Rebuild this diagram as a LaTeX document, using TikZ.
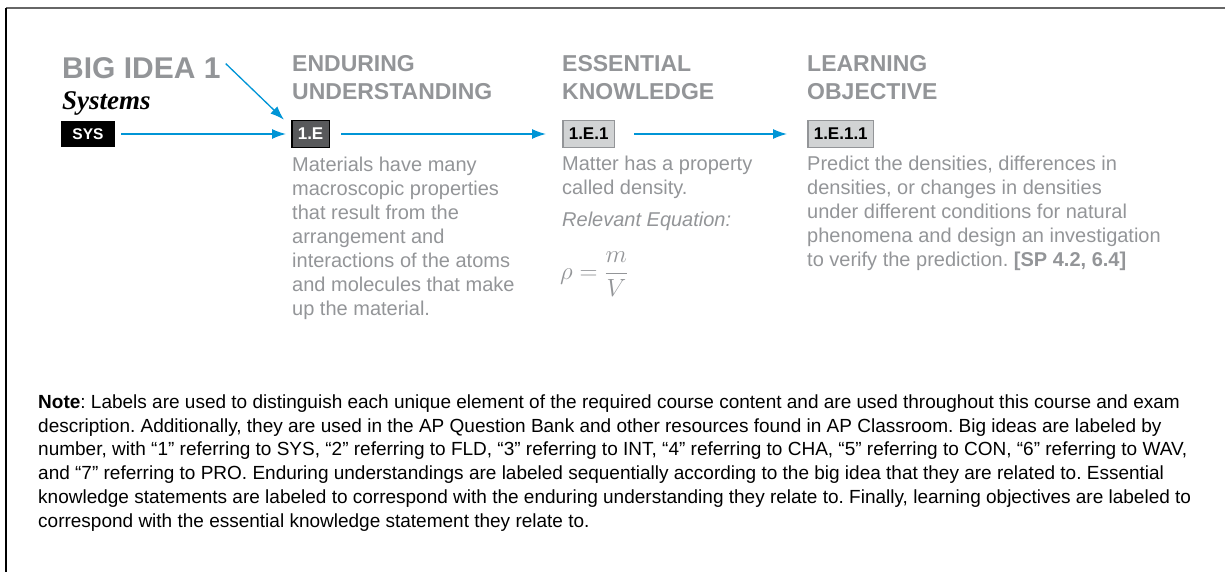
\documentclass[tikz,border=0pt]{standalone}
\usepackage{fontspec}
\setmainfont{Liberation Sans}
\newfontfamily\idearm{Liberation Serif}
\usetikzlibrary{arrows.meta}
\frenchspacing

\definecolor{apgray}{HTML}{939598}
\definecolor{apdark}{HTML}{58595B}
\definecolor{aplight}{HTML}{D1D3D4}
\definecolor{apblue}{HTML}{0095D6}

\tikzset{
  heading/.style={anchor=base west, inner sep=0pt, align=left, text=apgray,
    font=\fontsize{23}{28}\selectfont\bfseries},
  body/.style={anchor=base west, inner sep=0pt, align=left, text=apgray,
    font=\fontsize{20}{24}\selectfont},
  tag/.style={inner ysep=0pt, inner xsep=6pt, minimum height=27pt, line width=1.6pt,
    font=\fontsize{17}{17}\selectfont\bfseries},
  flow/.style={-{Latex[length=14pt,width=10pt]}, draw=apblue, fill=apblue, line width=1.3pt},
}

\begin{document}
\begin{tikzpicture}[x=1pt, y=-1pt]
        \useasboundingbox (0,0) rectangle (1225,572);
        \draw[line width=2pt, draw=black!60] (6,8.5) -- (1225,8.5);
        \draw[line width=1.3pt] (6,8.5) -- (6,572);

        % big idea (multi-line nodes sit on their last baseline)
        \node[anchor=base west, inner sep=0pt, text=apgray, font=\fontsize{30}{30}\selectfont\bfseries] (bigidea) at (62,79) {BIG IDEA 1};
        \node[anchor=base west, inner sep=0pt, font=\fontsize{27}{27}\selectfont\idearm\bfseries\itshape] (systems) at (62,110) {Systems};
        \node[tag, fill=black, text=white, inner xsep=11pt, minimum height=26pt, font=\fontsize{15.5}{15.5}\selectfont\bfseries] (sys) at (88,134) {SYS};

        % headings
        \node[heading] (euhead) at (292,100) {ENDURING\\UNDERSTANDING};
        \node[heading] (ekhead) at (562,100) {ESSENTIAL\\KNOWLEDGE};
        \node[heading] (lohead) at (807,100) {LEARNING\\OBJECTIVE};

        % labels
        \node[tag, fill=apdark, draw=black, text=white, anchor=west] (ee) at (291,134) {1.E};
        \node[tag, fill=aplight, draw=apgray, anchor=west] (ek) at (562,134) {1.E.1};
        \node[tag, fill=aplight, draw=apgray, anchor=west] (lo) at (807,134) {1.E.1.1};

        % texts
        \node[body] (eutext) at (292,315) {Materials have many\\macroscopic properties\\that result from the\\arrangement and\\interactions of the atoms\\and molecules that make\\up the material.};
        \node[body] (ektext) at (562,194) {Matter has a property\\called density.};
        \node[body, font=\fontsize{20}{24}\selectfont\itshape] (eqlabel) at (562,226) {Relevant Equation:};
        \node[anchor=base west, inner sep=0pt, text=apgray, font=\fontsize{30}{30}\selectfont] (eq) at (560,279) {$\displaystyle\rho=\frac{m}{V}$};
        \node[body] (lotext) at (807,266) {Predict the densities, differences in\\densities, or changes in densities\\under different conditions for natural\\phenomena and design an investigation\\to verify the prediction. \textbf{[SP 4.2, 6.4]}};

        % arrows
        \draw[flow] ([shift={(5pt,5pt)}]bigidea.east) -- ([shift={(-7pt,0pt)}]ee.north west);
        \draw[flow] ([xshift=6pt]sys.east) -- ([xshift=-5pt]ee.west);
        \draw[flow] ([xshift=11pt]ee.east) -- ([xshift=-16pt]ek.west);
        \draw[flow] ([xshift=19pt]ek.east) -- ([xshift=-20pt]lo.west);

        % note
        \node[anchor=base west, inner sep=0pt, align=left, font=\fontsize{19}{23.7}\selectfont] (note) at (38,527) {\textbf{Note}: Labels are used to distinguish each unique element of the required course content and are used throughout this course and exam\\description. Additionally, they are used in the AP Question Bank and other resources found in AP Classroom. Big ideas are labeled by\\number, with “1” referring to SYS, “2” referring to FLD, “3” referring to INT, “4” referring to CHA, “5” referring to CON, “6” referring to WAV,\\and “7” referring to PRO. Enduring understandings are labeled sequentially according to the big idea that they are related to. Essential\\knowledge statements are labeled to correspond with the enduring understanding they relate to. Finally, learning objectives are labeled to\\correspond with the essential knowledge statement they relate to.};
\end{tikzpicture}
\end{document}
